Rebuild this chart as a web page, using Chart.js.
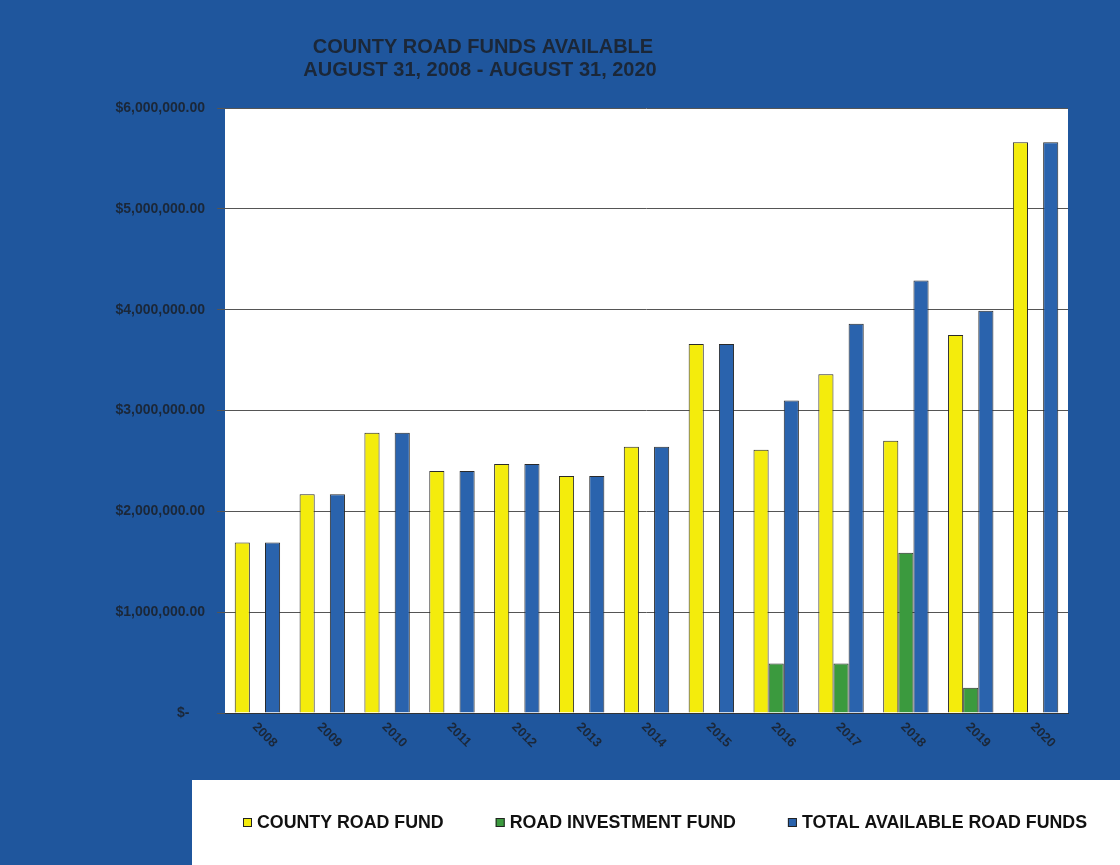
<!DOCTYPE html>
<html>
<head>
<meta charset="utf-8">
<script src="https://cdn.jsdelivr.net/npm/chart.js@4.4.1/dist/chart.umd.min.js"></script>
<style>
  html, body { margin: 0; padding: 0; background: #1f569d; }
  #wrap { width: 1120px; height: 865px; }
</style>
</head>
<body>
<div id="wrap"><canvas id="myChart" width="1120" height="865"></canvas></div>
<script>
const years = ['2008', '2009', '2010', '2011', '2012', '2013', '2014', '2015', '2016', '2017', '2018', '2019', '2020'];
const countyRoadFund = [1690000, 2170000, 2780000, 2400000, 2470000, 2350000, 2640000, 3660000, 2610000, 3360000, 2700000, 3750000, 5660000];
const roadInvestmentFund = [0, 0, 0, 0, 0, 0, 0, 0, 490000, 490000, 1590000, 250000, 0];
const totalAvailable = [1690000, 2170000, 2780000, 2400000, 2470000, 2350000, 2640000, 3660000, 3100000, 3860000, 4290000, 3990000, 5660000];
const yTicks = [0, 1000000, 2000000, 3000000, 4000000, 5000000, 6000000];
const titleLines = ['COUNTY ROAD FUNDS AVAILABLE', 'AUGUST 31, 2008 - AUGUST 31, 2020'];

const ctx = document.getElementById('myChart');
const textDark = '#1b2738';
const fontFam = '"Liberation Sans", Arial, sans-serif';

// blue page, white plot area, white legend strip, title, slanted year labels, legend
const pagePlugin = {
  id: 'page',
  beforeDraw(chart) {
    const c = chart.ctx;
    const a = chart.chartArea;
    c.save();
    c.fillStyle = '#1f569d';
    c.fillRect(0, 0, chart.width, chart.height);
    c.fillStyle = '#ffffff';
    c.fillRect(a.left, a.top, a.right - a.left, a.bottom - a.top);
    c.fillRect(192, 780, chart.width - 192, chart.height - 780);
    c.restore();
  },
  afterDraw(chart) {
    const c = chart.ctx;
    const x = chart.scales.x;
    c.save();
    c.fillStyle = textDark;
    c.font = 'bold 20px ' + fontFam;
    c.textAlign = 'center';
    c.textBaseline = 'middle';
    c.fillText(titleLines[0], 483, 47);
    c.fillText(titleLines[1], 480, 70);

    c.font = 'bold 13px ' + fontFam;
    c.textAlign = 'left';
    years.forEach((y, i) => {
      const px = x.getPixelForTick(i);
      c.save();
      c.translate(px - 3, x.top + 12);
      c.rotate(Math.PI / 4);
      c.fillText(y, 0, 0);
      c.restore();
    });

    // legend
    c.font = 'bold 17.8px ' + fontFam;
    c.textBaseline = 'middle';
    let lx = 243;
    const ly = 823;
    chart.data.datasets.forEach((ds) => {
      c.fillStyle = ds.backgroundColor;
      c.fillRect(lx, ly - 5, 9, 9);
      c.strokeStyle = '#222222';
      c.lineWidth = 1;
      c.strokeRect(lx + 0.5, ly - 4.5, 8, 8);
      c.fillStyle = '#111111';
      c.fillText(ds.label, lx + 14, ly);
      lx += 14 + c.measureText(ds.label).width + 52;
    });
    c.restore();
  }
};

const money = (v) => v === 0 ? '$-    ' : '$' + v.toLocaleString('en-US', { minimumFractionDigits: 2 });

new Chart(ctx, {
  type: 'bar',
  data: {
    labels: years,
    datasets: [
      { label: 'COUNTY ROAD FUND', data: countyRoadFund, backgroundColor: '#f4ec0c', borderColor: '#2a2a2a', borderWidth: 1 },
      { label: 'ROAD INVESTMENT FUND', data: roadInvestmentFund, backgroundColor: '#3b9a3e', borderColor: '#2a2a2a', borderWidth: 1 },
      { label: 'TOTAL AVAILABLE ROAD FUNDS', data: totalAvailable, backgroundColor: '#2a63ad', borderColor: '#2a2a2a', borderWidth: 1 },
    ],
  },
  options: {
    responsive: false,
    animation: false,
    layout: { padding: { left: 0, top: 108, right: 52, bottom: 85 } },
    datasets: { bar: { categoryPercentage: 0.7, barPercentage: 1.0 } },
    plugins: {
      title: { display: false },
      tooltip: { enabled: false },
      legend: { display: false },
    },
    scales: {
      x: {
        grid: { display: false },
        border: { display: true, color: '#333333', width: 1 },
        ticks: { display: false },
        afterFit(scale) { scale.height = 67; },
      },
      y: {
        min: 0,
        max: 6000000,
        afterBuildTicks(scale) { scale.ticks = yTicks.map((v) => ({ value: v })); },
        grid: { color: '#555555', lineWidth: 1, tickLength: 8 },
        border: { display: false },
        ticks: {
          color: textDark,
          padding: 12,
          font: { family: fontFam, size: 14, weight: 'bold' },
          callback: (v) => money(v),
        },
        afterFit(scale) { scale.width = 225; },
      },
    },
  },
  plugins: [pagePlugin],
});
</script>
</body>
</html>
